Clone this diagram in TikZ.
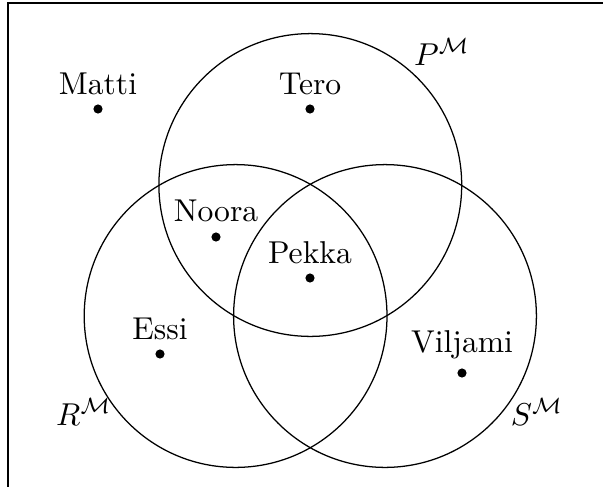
\documentclass[tikz,border=0pt]{standalone}
\begin{document}
\begin{tikzpicture}[x=0.3164pt,y=-0.3164pt,
  pt/.style={circle,fill=black,inner sep=0pt,minimum size=2.9pt},
  lab/.style={anchor=base,inner sep=0pt},
  setc/.style={draw,line width=0.4pt}]
\useasboundingbox (0,0) rectangle (603,486);
\clip (0,0) rectangle (603,486);
\coordinate (fb) at (8,500);
\coordinate (ftl) at (8,3);
\coordinate (fr) at (620,3);
\draw[line width=0.5pt] (fb) -- (ftl) -- (fr);
% circles
\coordinate (cP) at (310.3,185);
\coordinate (cR) at (235.6,316);
\coordinate (cS) at (385,316);
\draw[setc] (cP) circle[radius=151.4];
\draw[setc] (cR) circle[radius=151.4];
\draw[setc] (cS) circle[radius=151.4];
% set labels
\node[lab] (lP) at (442,65) {$P^{\mathcal{M}}$};
\node[lab] (lR) at (84,425) {$R^{\mathcal{M}}$};
\node[lab] (lS) at (537,425) {$S^{\mathcal{M}}$};
% elements
\node[pt] (matti) at (98,109) {};
\node[lab] (tmatti) at (98,94.3) {Matti};
\node[pt] (tero) at (310,109) {};
\node[lab] (ttero) at (310,94.3) {Tero};
\node[pt] (noora) at (216,237) {};
\node[lab] (tnoora) at (216,221.7) {Noora};
\node[pt] (pekka) at (310,278) {};
\node[lab] (tpekka) at (310,263.3) {Pekka};
\node[pt] (essi) at (160,354) {};
\node[lab] (tessi) at (160,339) {Essi};
\node[pt] (viljami) at (462,373) {};
\node[lab] (tviljami) at (462,352.5) {Viljami};
\end{tikzpicture}
\end{document}
